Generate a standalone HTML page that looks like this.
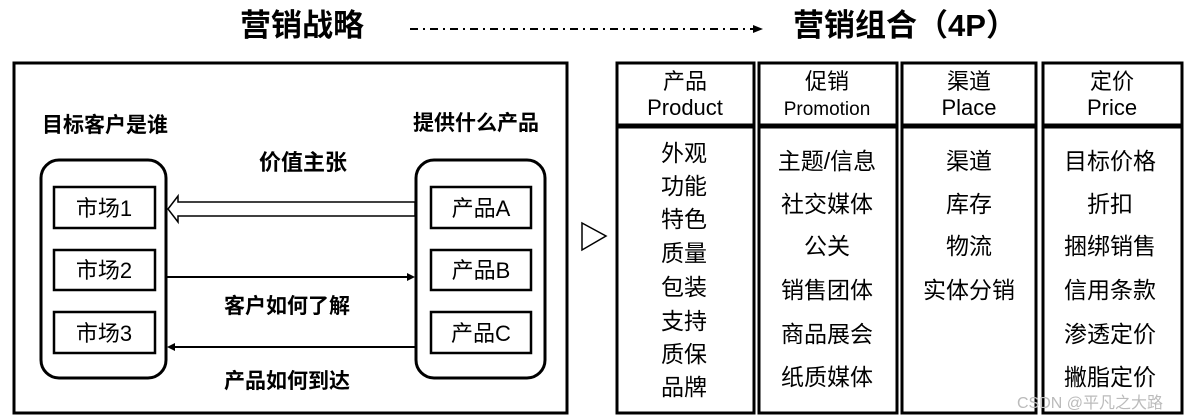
<!DOCTYPE html>
<html><head><meta charset="utf-8"><style>
html,body{margin:0;padding:0;background:#fff;}
svg{display:block;}
text{font-family:"Liberation Sans","Noto Sans CJK SC",sans-serif;fill:#000;}
.b{font-weight:bold;}
</style></head><body>
<svg width="1191" height="420" viewBox="0 0 1191 420" xmlns="http://www.w3.org/2000/svg">
<text x="302" y="36" font-size="31" class="b" text-anchor="middle">营销战略</text>
<line x1="410" y1="29" x2="755" y2="29" stroke="#000" stroke-width="2" stroke-dasharray="8,5,2,5"/>
<polygon points="763,29 753,25 753,33" fill="#000"/>
<text x="905" y="36" font-size="31" class="b" text-anchor="middle">营销组合（4P）</text>

<rect x="14" y="63" width="553" height="350" fill="none" stroke="#000" stroke-width="3"/>
<text x="105" y="132" font-size="21" class="b" text-anchor="middle">目标客户是谁</text>
<text x="476" y="130" font-size="21" class="b" text-anchor="middle">提供什么产品</text>
<text x="303" y="170" font-size="22" class="b" text-anchor="middle">价值主张</text>
<text x="287" y="313" font-size="21" class="b" text-anchor="middle">客户如何了解</text>
<text x="287" y="388" font-size="21" class="b" text-anchor="middle">产品如何到达</text>

<rect x="41" y="160" width="125" height="218" rx="18" fill="none" stroke="#000" stroke-width="3"/>
<rect x="416" y="160" width="129" height="218" rx="18" fill="none" stroke="#000" stroke-width="3"/>
<g fill="none" stroke="#000" stroke-width="2.5">
<rect x="54" y="187" width="101" height="41"/><rect x="54" y="250" width="101" height="40"/><rect x="54" y="312" width="101" height="41"/>
<rect x="431" y="187" width="100" height="41"/><rect x="431" y="250" width="100" height="40"/><rect x="431" y="312" width="100" height="41"/>
</g>
<g font-size="22" text-anchor="middle">
<text x="104" y="216">市场1</text><text x="104" y="278">市场2</text><text x="104" y="341">市场3</text>
<text x="481" y="216">产品A</text><text x="481" y="278">产品B</text><text x="481" y="341">产品C</text>
</g>
<polygon points="415,202 178,202 178,196 168,209 178,222 178,216 415,216" fill="#fff" stroke="#000" stroke-width="1.5"/>
<line x1="166" y1="277" x2="409" y2="277" stroke="#000" stroke-width="2"/>
<polygon points="415,277 407,273 407,281" fill="#000"/>
<line x1="174" y1="347" x2="416" y2="347" stroke="#000" stroke-width="2"/>
<polygon points="167,347 175,343 175,351" fill="#000"/>

<polygon points="582,223 606,236 582,250" fill="#fff" stroke="#000" stroke-width="1.5"/>

<g fill="none" stroke="#000" stroke-width="3">
<rect x="617" y="63" width="137" height="62"/><rect x="617" y="127" width="137" height="286"/>
<rect x="759" y="63" width="138" height="62"/><rect x="759" y="127" width="138" height="286"/>
<rect x="902" y="63" width="134" height="62"/><rect x="902" y="127" width="134" height="286"/>
<rect x="1043" y="63" width="139" height="62"/><rect x="1043" y="127" width="139" height="286"/>
</g>
<g font-size="22" text-anchor="middle">
<text x="685" y="89">产品</text><text x="685" y="115">Product</text>
<text x="827" y="89">促销</text><text x="827" y="115" font-size="19">Promotion</text>
<text x="969" y="89">渠道</text><text x="969" y="115">Place</text>
<text x="1112" y="89">定价</text><text x="1112" y="115">Price</text>
</g>
<g font-size="23" text-anchor="middle">
<text x="684" y="161">外观</text><text x="684" y="194">功能</text><text x="684" y="227">特色</text><text x="684" y="261">质量</text>
<text x="684" y="295">包装</text><text x="684" y="329">支持</text><text x="684" y="362">质保</text><text x="684" y="395">品牌</text>
<text x="827" y="169">主题/信息</text><text x="827" y="212">社交媒体</text><text x="827" y="254">公关</text>
<text x="827" y="298">销售团体</text><text x="827" y="342">商品展会</text><text x="827" y="385">纸质媒体</text>
<text x="969" y="169">渠道</text><text x="969" y="212">库存</text><text x="969" y="254">物流</text><text x="969" y="298">实体分销</text>
<text x="1110" y="169">目标价格</text><text x="1110" y="212">折扣</text><text x="1110" y="254">捆绑销售</text>
<text x="1110" y="298">信用条款</text><text x="1110" y="342">渗透定价</text><text x="1110" y="385">撇脂定价</text>
</g>
<text x="1090" y="408" font-size="16" style="fill:#bbb" text-anchor="middle">CSDN @平凡之大路</text>
</svg>
</body></html>
